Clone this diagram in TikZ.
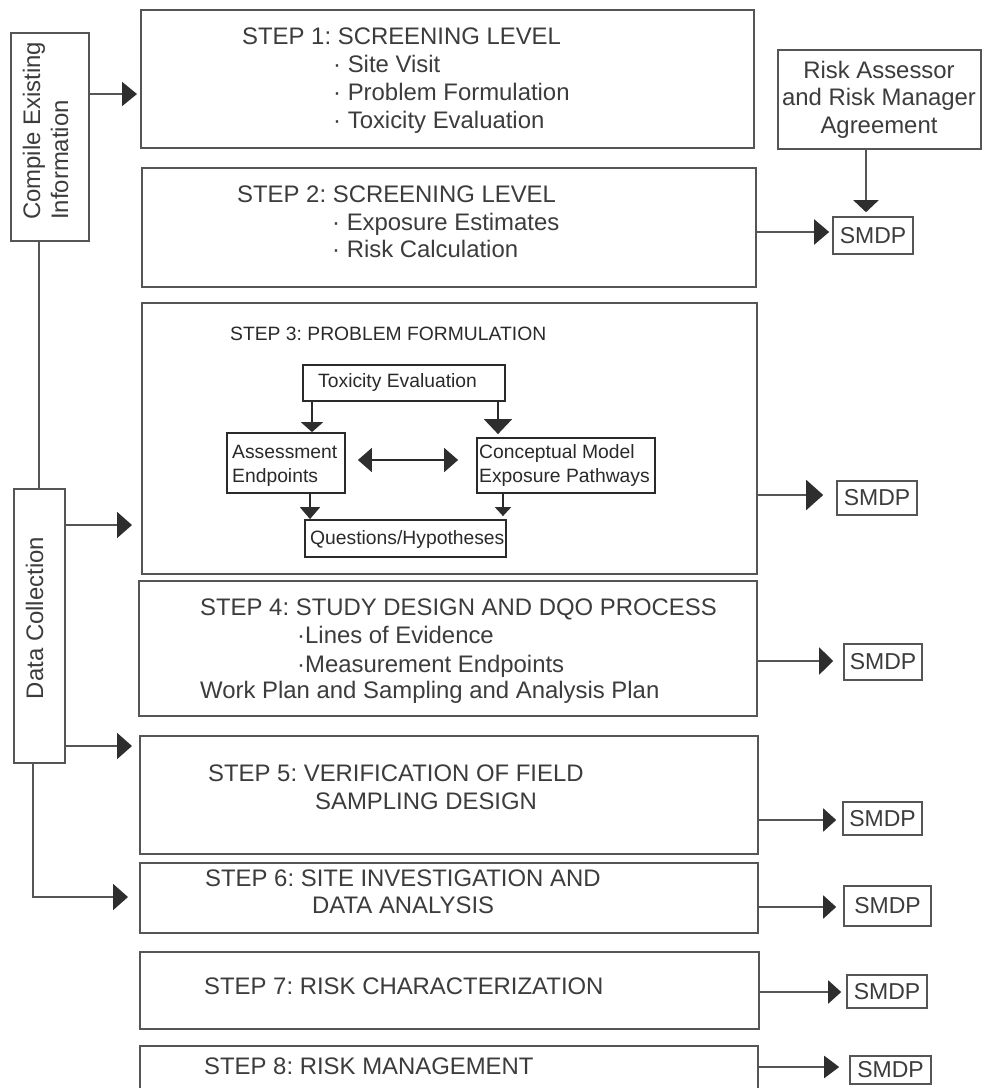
\documentclass[tikz,border=0pt]{standalone}
\usepackage{fontspec}
\setmainfont{Liberation Sans}
\usetikzlibrary{arrows.meta}
\definecolor{txt}{HTML}{3C3C3C}
\definecolor{dk}{HTML}{2A2A2A}
\definecolor{ln}{HTML}{555555}
\definecolor{hd}{HTML}{2E2E2E}
\frenchspacing
\begin{document}
\begin{tikzpicture}[x=1pt,y=-1pt,
  box/.style={draw=ln,line width=2pt,inner sep=0pt,fill=white},
  sbox/.style={draw=ln,line width=1.6pt,inner sep=0pt,fill=white,text=txt,font=\fontsize{23}{27}\selectfont},
  ibox/.style={draw=dk,line width=1.8pt,inner sep=0pt,fill=white},
  lbl/.style={anchor=base west,inner sep=0pt,text=txt,font=\fontsize{23.9}{28}\selectfont},
  ilbl/.style={anchor=base west,inner sep=0pt,text=dk,font=\fontsize{19.3}{23}\selectfont},
  conn/.style={draw=ln,line width=2pt},
  headed/.style 2 args={-{Triangle[length=#1,width=#2,color=hd]}},
]
\clip (0,0) rectangle (982,1088);
\fill[white] (0,0) rectangle (982,1088);

% left boxes
\node[box,minimum width=78pt,minimum height=208pt] (compile) at (50,137) {};
\node[rotate=90,anchor=base west,inner sep=0pt,text=txt,font=\fontsize{23.9}{28}\selectfont] (cl1) at (40,220) {Compile Existing};
\node[rotate=90,anchor=base west,inner sep=0pt,text=txt,font=\fontsize{23.9}{28}\selectfont] (cl2) at (68,220) {Information};
\node[box,minimum width=51pt,minimum height=274pt] (datacol) at (39.5,626) {};
\node[rotate=90,anchor=base,inner sep=0pt,text=txt,font=\fontsize{23.9}{28}\selectfont] (dcl) at (43,618) {Data Collection};

% step boxes
\node[box,minimum width=613pt,minimum height=138pt] (s1) at (447.5,79) {};
\node[box,minimum width=614pt,minimum height=119pt] (s2) at (449,227.5) {};
\node[box,minimum width=615pt,minimum height=271pt] (s3) at (449.5,438.5) {};
\node[box,minimum width=618pt,minimum height=135pt] (s4) at (448,648.5) {};
\node[box,minimum width=618pt,minimum height=118pt] (s5) at (449,795) {};
\node[box,minimum width=618pt,minimum height=70pt] (s6) at (449,898) {};
\node[box,minimum width=619pt,minimum height=77pt] (s7) at (449.5,990.5) {};
\node[box,minimum width=618pt,minimum height=80pt] (s8) at (449,1086) {};

% step texts
\node[lbl] (t1) at (242,44) {STEP 1: SCREENING LEVEL};
\node[lbl] (t1a) at (333,72) {· Site Visit};
\node[lbl] (t1b) at (333,100) {· Problem Formulation};
\node[lbl] (t1c) at (333,128) {· Toxicity Evaluation};
\node[lbl] (t2) at (237,202) {STEP 2: SCREENING LEVEL};
\node[lbl] (t2a) at (332,230) {· Exposure Estimates};
\node[lbl] (t2b) at (332,257) {· Risk Calculation};
\node[ilbl] (t3) at (230,340) {STEP 3: PROBLEM FORMULATION};
\node[lbl] (t4) at (200,615) {STEP 4: STUDY DESIGN AND DQO PROCESS};
\node[lbl] (t4a) at (297,643) {·Lines of Evidence};
\node[lbl] (t4b) at (297,672) {·Measurement Endpoints};
\node[lbl] (t4c) at (200,698) {Work Plan and Sampling and Analysis Plan};
\node[lbl] (t5) at (208,781) {STEP 5: VERIFICATION OF FIELD};
\node[lbl] (t5a) at (315,809) {SAMPLING DESIGN};
\node[lbl] (t6) at (205,886) {STEP 6: SITE INVESTIGATION AND};
\node[lbl] (t6a) at (312,913) {DATA ANALYSIS};
\node[lbl] (t7) at (204,994) {STEP 7: RISK CHARACTERIZATION};
\node[lbl] (t8) at (204,1074) {STEP 8: RISK MANAGEMENT};

% step 3 inner boxes
\node[ibox,minimum width=202pt,minimum height=36pt] (tox) at (404,383) {};
\node[ibox,minimum width=118pt,minimum height=60pt] (assess) at (286,463) {};
\node[ibox,minimum width=178pt,minimum height=55pt] (concept) at (566,465.5) {};
\node[ibox,minimum width=201pt,minimum height=37pt] (ques) at (405.5,538.5) {};
\node[ilbl] (tt) at (318,387) {Toxicity Evaluation};
\node[ilbl] (ta1) at (232,458) {Assessment};
\node[ilbl] (ta2) at (232,482) {Endpoints};
\node[ilbl] (tc1) at (479,458) {Conceptual Model};
\node[ilbl] (tc2) at (479,482) {Exposure Pathways};
\node[ilbl] (tq) at (310,544) {Questions/Hypotheses};

% right boxes
\node[box,minimum width=203pt,minimum height=99pt,align=center,text=txt,
      font=\fontsize{23.9}{27.5}\selectfont] (risk) at (879,99.5)
      {Risk Assessor\\and Risk Manager\\Agreement};
\node[sbox,minimum width=80pt,minimum height=37pt] (m2) at (873,235.5) {SMDP};
\node[sbox,minimum width=80pt,minimum height=34pt] (m3) at (877,498) {SMDP};
\node[sbox,minimum width=78pt,minimum height=36pt] (m4) at (883,662) {SMDP};
\node[sbox,minimum width=79pt,minimum height=33pt] (m5) at (882.5,818.5) {SMDP};
\node[sbox,minimum width=87pt,minimum height=40pt] (m6) at (887.5,906) {SMDP};
\node[sbox,minimum width=80pt,minimum height=33pt] (m7) at (887,991.5) {SMDP};
\node[sbox,minimum width=81pt,minimum height=28pt] (m8) at (890.5,1070) {SMDP};

% left connectors
\draw[conn,headed={15pt}{24pt},shorten >=3pt] (compile.east |- 0,94) -- (s1.west |- 0,94);
\draw[conn] (compile.south -| 39,0) -- (datacol.north -| 39,0);
\draw[conn,headed={15pt}{26pt},shorten >=9pt] (datacol.east |- 0,525) -- (s3.west |- 0,525);
\draw[conn,headed={15pt}{26pt},shorten >=7pt] (datacol.east |- 0,746) -- (s5.west |- 0,746);
\draw[conn,headed={15pt}{26pt},shorten >=11pt] (datacol.south -| 33,0) |- (s6.west |- 0,897);

% right connectors
\draw[conn,headed={12pt}{25pt},shorten >=4pt] (risk.south -| 866,0) -- (m2.north -| 866,0);
\draw[conn,headed={15pt}{25pt},shorten >=3pt] (s2.east |- 0,232) -- (m2.west |- 0,232);
\draw[conn,headed={17pt}{30pt},shorten >=13pt] (s3.east |- 0,495) -- (m3.west |- 0,495);
\draw[conn,headed={14pt}{27pt},shorten >=10pt] (s4.east |- 0,661) -- (m4.west |- 0,661);
\draw[conn,headed={13pt}{23pt},shorten >=6pt] (s5.east |- 0,820) -- (m5.west |- 0,820);
\draw[conn,headed={13pt}{23pt},shorten >=7pt] (s6.east |- 0,907) -- (m6.west |- 0,907);
\draw[conn,headed={13pt}{23pt},shorten >=5pt] (s7.east |- 0,992) -- (m7.west |- 0,992);
\draw[conn,headed={15pt}{22pt},shorten >=10pt] (s8.east |- 0,1067) -- (m8.west |- 0,1067);

% step 3 inner connectors
\draw[conn,draw=dk,headed={10pt}{22pt}] (tox.south -| 312,0) -- (assess.north -| 312,0);
\draw[conn,draw=dk,headed={15pt}{28pt},shorten >=3pt] (tox.south -| 498,0) -- (concept.north -| 498,0);
\draw[conn,draw=dk,{Triangle[length=14pt,width=24pt,color=hd]}-{Triangle[length=14pt,width=24pt,color=hd]},shorten <=12pt,shorten >=18pt] (assess.east |- 0,460) -- (concept.west |- 0,460);
\draw[conn,draw=dk,headed={12pt}{20pt}] (assess.south -| 310,0) -- (ques.north -| 310,0);
\draw[conn,draw=dk,headed={9pt}{16pt},shorten >=3pt] (concept.south -| 503,0) -- (ques.north -| 503,0);
\end{tikzpicture}
\end{document}
